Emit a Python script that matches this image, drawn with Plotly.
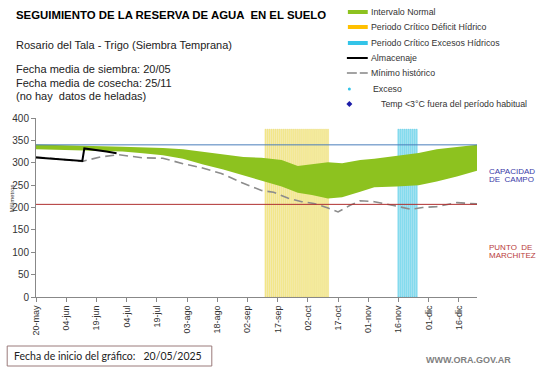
import plotly.graph_objects as go
import pandas as pd

# ---------------- data ----------------
band_dates = ["2025-05-20", "2025-06-01", "2025-06-12", "2025-06-22", "2025-07-02", "2025-07-12",
              "2025-07-22", "2025-08-01", "2025-08-11", "2025-08-21", "2025-08-31", "2025-09-09",
              "2025-09-19", "2025-09-27", "2025-10-04", "2025-10-12", "2025-10-19", "2025-10-28",
              "2025-11-04", "2025-11-15", "2025-11-26", "2025-12-05", "2025-12-15", "2025-12-25"]
band_upper = [341, 339, 338, 337, 336, 335, 333, 330, 324, 318, 313, 311,
              306, 293, 296, 301, 299, 306, 309, 315, 322, 330, 335, 340]
band_lower = [330, 329, 328, 326, 325, 321, 317, 309, 296, 285, 272, 261,
              247, 233, 228, 220, 223, 235, 245, 247, 250, 258, 269, 282]

min_dates = ["2025-05-20", "2025-06-12", "2025-06-21", "2025-06-30", "2025-07-12", "2025-07-22",
             "2025-08-01", "2025-08-10", "2025-08-20", "2025-08-30", "2025-09-09", "2025-09-15",
             "2025-09-22", "2025-09-29", "2025-10-05", "2025-10-12", "2025-10-17", "2025-10-23",
             "2025-10-28", "2025-11-04", "2025-11-15", "2025-11-22", "2025-11-28", "2025-12-05",
             "2025-12-15", "2025-12-25"]
min_values = [313, 303, 313, 318, 311, 310, 298, 289, 276, 256, 238, 234,
              221, 213, 209, 199, 190, 205, 215, 213, 203, 196, 200, 202, 211, 208]

alm_dates = ["2025-05-20", "2025-05-30", "2025-06-07", "2025-06-12", "2025-06-13",
             "2025-06-19", "2025-06-24", "2025-06-29"]
alm_values = [312, 309, 306, 304, 332, 329, 325, 321]

deficit_dates = pd.date_range("2025-09-11", "2025-10-12", freq="D")
exceso_dates = pd.date_range("2025-11-16", "2025-11-25", freq="D")
critical_top = 375

capacidad_campo = 340
punto_marchitez = 207

tick_dates = pd.date_range("2025-05-20", periods=15, freq="15D")
tick_labels = ["20-may", "04-jun", "19-jun", "04-jul", "19-jul", "03-ago", "18-ago", "02-sep",
               "17-sep", "02-oct", "17-oct", "01-nov", "16-nov", "01-dic", "16-dic"]

# ---------------- layout helpers ----------------
W, H = 541, 368
L, R, T, B = 33, 477, 118, 297


def px(x):
    return (x - L) / (R - L)


def py(y):
    return (B - y) / (B - T)


GREEN = "#8dc21f"
FONT = "Liberation Sans, Arial, sans-serif"
DAY_MS = 86400000

fig = go.Figure()

fig.add_trace(go.Scatter(x=band_dates, y=band_lower, mode="lines", line=dict(width=0),
                         showlegend=False, hoverinfo="skip"))
fig.add_trace(go.Scatter(x=band_dates, y=band_upper, mode="lines", line=dict(width=0),
                         fill="tonexty", fillcolor=GREEN, showlegend=False))

fig.add_trace(go.Bar(x=deficit_dates, y=[critical_top] * len(deficit_dates), width=0.6 * DAY_MS,
                     marker=dict(color="rgba(244,228,100,0.6)",
                                 line=dict(color="rgba(226,204,60,0.8)", width=0.4)),
                     showlegend=False))
fig.add_trace(go.Bar(x=exceso_dates, y=[critical_top] * len(exceso_dates), width=0.6 * DAY_MS,
                     marker=dict(color="rgba(110,215,238,0.6)",
                                 line=dict(color="rgba(30,185,220,0.85)", width=0.4)),
                     showlegend=False))

fig.add_trace(go.Scatter(x=min_dates, y=min_values, mode="lines",
                         line=dict(color="#8c8c8c", width=1.6, dash="9px,5px"), showlegend=False))
fig.add_trace(go.Scatter(x=alm_dates, y=alm_values, mode="lines",
                         line=dict(color="#000000", width=2), showlegend=False))

shapes = [
    dict(type="line", xref="paper", x0=0, x1=1, yref="y", y0=capacidad_campo, y1=capacidad_campo,
         line=dict(color="#4a7ebb", width=1)),
    dict(type="line", xref="paper", x0=0, x1=1, yref="y", y0=punto_marchitez, y1=punto_marchitez,
         line=dict(color="#b03030", width=1)),
]

# custom legend
leg_y = [12, 27, 43, 58, 73, 89, 104]
sw_x0, sw_x1 = 347, 367
shapes.append(dict(type="line", xref="paper", yref="paper", x0=px(sw_x0), x1=px(sw_x1),
                   y0=py(leg_y[0]), y1=py(leg_y[0]), line=dict(color=GREEN, width=4)))
shapes.append(dict(type="line", xref="paper", yref="paper", x0=px(sw_x0), x1=px(sw_x1),
                   y0=py(leg_y[1]), y1=py(leg_y[1]), line=dict(color="#ffc000", width=4)))
shapes.append(dict(type="line", xref="paper", yref="paper", x0=px(sw_x0), x1=px(sw_x1),
                   y0=py(leg_y[2]), y1=py(leg_y[2]), line=dict(color="#33c4e8", width=4)))
shapes.append(dict(type="line", xref="paper", yref="paper", x0=px(sw_x0 - 1), x1=px(sw_x1),
                   y0=py(leg_y[3]), y1=py(leg_y[3]), line=dict(color="#000000", width=2)))
shapes.append(dict(type="line", xref="paper", yref="paper", x0=px(sw_x0 - 1), x1=px(sw_x0 + 9),
                   y0=py(leg_y[4]), y1=py(leg_y[4]), line=dict(color="#8c8c8c", width=1.6)))
shapes.append(dict(type="line", xref="paper", yref="paper", x0=px(sw_x0 + 12), x1=px(sw_x1),
                   y0=py(leg_y[4]), y1=py(leg_y[4]), line=dict(color="#8c8c8c", width=1.6)))
shapes.append(dict(type="circle", xref="paper", yref="paper", x0=px(347), x1=px(350),
                   y0=py(leg_y[5] + 1.5), y1=py(leg_y[5] - 1.5),
                   fillcolor="#33c4e8", line=dict(width=0)))
shapes.append(dict(type="path", xref="paper", yref="paper",
                   path="M {} {} L {} {} L {} {} L {} {} Z".format(
                       px(348.5), py(leg_y[6] - 3), px(351.5), py(leg_y[6]),
                       px(348.5), py(leg_y[6] + 3), px(345.5), py(leg_y[6])),
                   fillcolor="#1c1ca8", line=dict(width=0)))

# bottom box
shapes.append(dict(type="rect", xref="paper", yref="paper", x0=px(4), x1=px(210),
                   y0=py(366), y1=py(346), line=dict(color="#9a7a7a", width=1)))

annotations = []


def txt(x, y, text, size, color="#222222", bold=False, family=FONT, xanchor="left"):
    annotations.append(dict(xref="paper", yref="paper", x=px(x), y=py(y),
                            text=("<b>%s</b>" % text) if bold else text,
                            showarrow=False, xanchor=xanchor, yanchor="middle",
                            font=dict(size=size, color=color, family=family)))


txt(11, 15, "SEGUIMIENTO DE LA RESERVA DE AGUA  EN EL SUELO", 11.4, "#000000", bold=True)
txt(11, 45, "Rosario del Tala - Trigo (Siembra Temprana)", 11)
txt(11, 69, "Fecha media de siembra: 20/05", 11)
txt(11, 83, "Fecha media de cosecha: 25/11", 11)
txt(11, 96, "(no hay  datos de heladas)", 11)

leg_texts = ["Intervalo Normal", "Periodo Crítico Déficit Hídrico", "Periodo Crítico Excesos Hídricos",
             "Almacenaje", "Mínimo histórico", "Exceso", "Temp <3°C fuera del período habitual"]
leg_x = [368, 368, 368, 368, 368, 370, 378]
for t, x, y in zip(leg_texts, leg_x, leg_y):
    txt(x, y, t, 8.8, "#333333")

txt(487, 171, "CAPACIDAD", 8, "#3a3aa8")
txt(487, 179.5, "DE  CAMPO", 8, "#3a3aa8")
txt(487, 247, "PUNTO  DE", 8, "#b83c3c")
txt(487, 255.5, "MARCHITEZ", 8, "#b83c3c")

txt(9, 356, "Fecha de inicio del gráfico:   20/05/2025", 10.5, "#222222", family="Lato, Liberation Sans")
txt(424, 360, "WWW.ORA.GOV.AR", 9, "#808080", bold=True)

annotations.append(dict(xref="paper", yref="paper", x=px(9), y=py(198), text="Milímetros",
                        textangle=-90, showarrow=False, xanchor="center", yanchor="middle",
                        font=dict(size=6, color="#333333", family=FONT)))

fig.update_layout(
    width=W, height=H, autosize=False,
    margin=dict(l=L, r=W - R, t=T, b=H - B, pad=0),
    paper_bgcolor="white", plot_bgcolor="white",
    showlegend=False, barmode="overlay",
    font=dict(family=FONT, color="#333333"),
    shapes=shapes, annotations=annotations,
    xaxis=dict(type="date", range=["2025-05-20", "2025-12-25"], tickvals=tick_dates, ticktext=tick_labels,
               tickangle=-90, ticks="outside", ticklen=4, tickcolor="#888888", showline=True,
               linecolor="#888888", showgrid=False, zeroline=False, tickfont=dict(size=9, color="#333333")),
    yaxis=dict(range=[0, 400], dtick=50, ticks="outside", ticklen=4, tickcolor="#888888", showline=True,
               linecolor="#888888", showgrid=False, zeroline=False, tickfont=dict(size=10, color="#333333")),
)

fig.write_html("out.html", config={"displayModeBar": False},
               post_script="document.body.style.margin='0';document.body.style.padding='0';")
